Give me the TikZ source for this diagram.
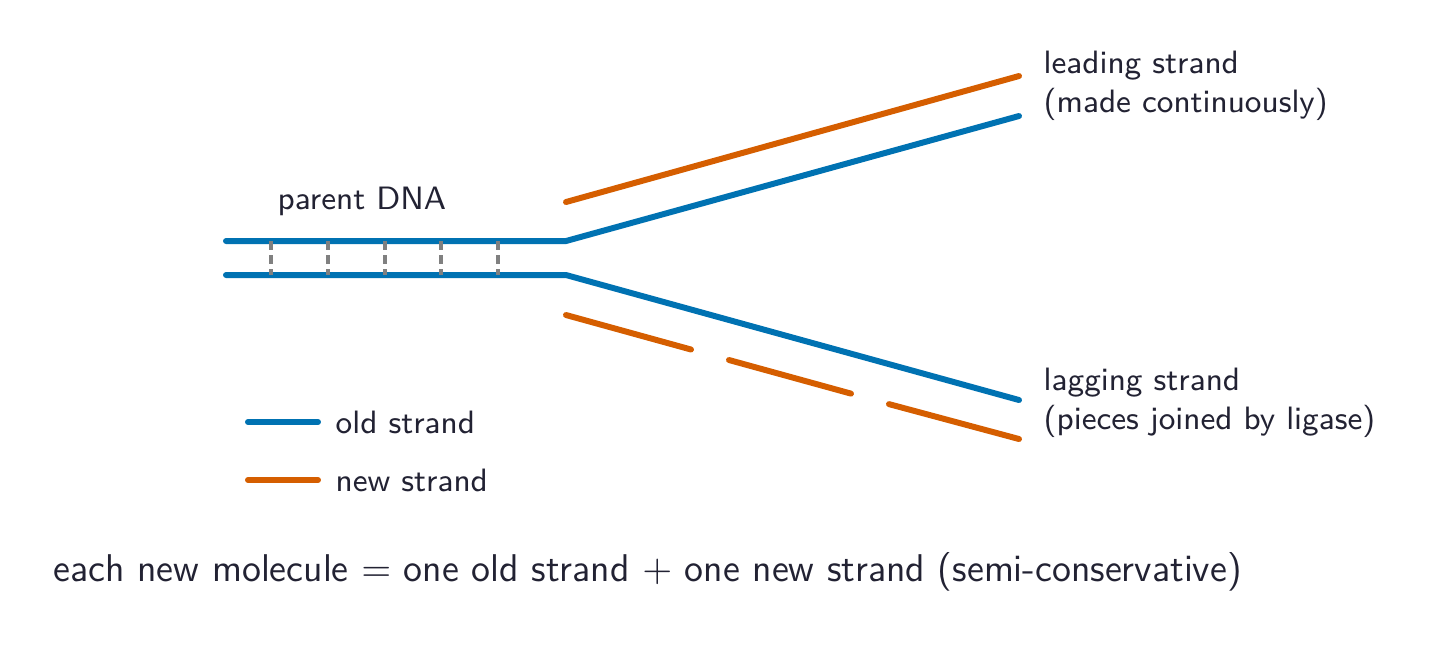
\documentclass[tikz,border=0pt]{standalone}
\usetikzlibrary{positioning}
\definecolor{oldblue}{HTML}{0072B2}
\definecolor{neworange}{HTML}{D55E00}
\definecolor{txt}{HTML}{222233}
\tikzset{
  old/.style={oldblue, line width=1.7pt, line cap=round},
  new/.style={neworange, line width=1.7pt, line cap=round},
  rung/.style={gray, line width=0.9pt, dash pattern=on 2.5pt off 1.5pt},
  lbl/.style={text=txt, font=\sffamily\fontsize{9.2}{11}\selectfont, inner sep=0pt, anchor=west, align=left}
}
\begin{document}
\begin{tikzpicture}[x=0.01cm, y=-0.01cm]
          \useasboundingbox (0,0) rectangle (1433,644);
          % parent double strand
          \draw[old] (226,241) -- (566,241) -- (1019,116);
          \draw[old] (226,275) -- (566,275) -- (1019,400);
          \foreach \x in {271,328,385,441,498}
            \draw[rung] (\x,241) -- (\x,275);

          % new strands
          \draw[new] (566,202) -- (1019,76);
          \draw[new] (566,315) -- (691,349.5);
          \draw[new] (729,360) -- (851,393.6);
          \draw[new] (889,404.1) -- (1019,439);

          \node[lbl] (parent) at (277,201) {parent DNA};
          \node[lbl] (lead) at (1043,86) {leading strand\\(made continuously)};
          \node[lbl] (lag) at (1043,403) {lagging strand\\(pieces joined by ligase)};

          % legend
          \draw[old] (248,422) -- (318,422);
          \node[lbl] (oldkey) at (335,422) {old strand};
          \draw[new] (248,480) -- (318,480);
          \node[lbl] (newkey) at (335,480) {new strand};

          \node[lbl, font=\sffamily\fontsize{11}{13}\selectfont] (note) at (53,572)
            {each new molecule $=$ one old strand $+$ one new strand (semi-conservative)};
\end{tikzpicture}
\end{document}
